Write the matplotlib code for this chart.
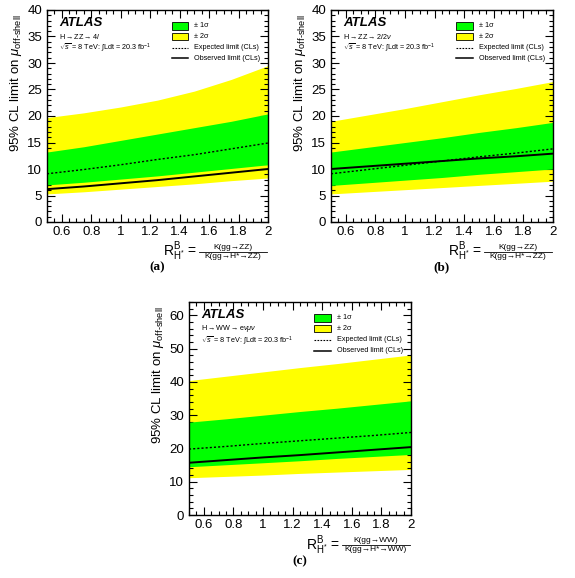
import matplotlib
matplotlib.use('Agg')
import matplotlib.pyplot as plt
from matplotlib.patches import Rectangle
from matplotlib.lines import Line2D
from matplotlib.ticker import MultipleLocator

plt.rcParams['font.family'] = ['Liberation Sans', 'DejaVu Sans']
plt.rcParams['mathtext.fontset'] = 'custom'
plt.rcParams['mathtext.rm'] = 'Liberation Sans'
plt.rcParams['mathtext.it'] = 'Liberation Sans:italic'
plt.rcParams['mathtext.bf'] = 'Liberation Sans:bold'

# R^B_H* scan points
r_b = [0.5, 0.75, 1.0, 1.25, 1.5, 1.75, 2.0]

# (a) H->ZZ->4l
a_yel_hi = [19.7, 20.6, 21.7, 23.0, 24.7, 26.9, 29.5]
a_grn_hi = [13.2, 14.2, 15.4, 16.6, 17.8, 19.0, 20.4]
a_exp    = [9.1, 9.9, 10.8, 11.8, 12.7, 13.8, 14.9]
a_obs    = [6.2, 6.7, 7.3, 7.9, 8.6, 9.3, 10.0]
a_grn_lo = [7.0, 7.5, 8.1, 8.7, 9.4, 10.1, 10.8]
a_yel_lo = [5.3, 5.7, 6.2, 6.7, 7.2, 7.8, 8.3]

# (b) H->ZZ->2l2nu
b_yel_hi = [19.0, 20.2, 21.4, 22.7, 24.0, 25.2, 26.5]
b_grn_hi = [13.2, 14.1, 15.0, 15.9, 16.9, 17.8, 18.8]
b_exp    = [9.1, 9.9, 10.7, 11.5, 12.3, 13.0, 13.8]
b_obs    = [10.0, 10.5, 11.0, 11.5, 12.0, 12.4, 12.9]
b_grn_lo = [6.9, 7.4, 7.9, 8.4, 9.0, 9.5, 10.0]
b_yel_lo = [5.3, 5.7, 6.1, 6.5, 6.9, 7.3, 7.7]

# (c) H->WW->enumunu
c_yel_hi = [40.4, 41.7, 43.0, 44.3, 45.5, 46.8, 48.1]
c_grn_hi = [27.9, 28.9, 30.0, 31.1, 32.1, 33.2, 34.3]
c_exp    = [19.8, 20.6, 21.5, 22.3, 23.1, 23.9, 24.8]
c_obs    = [15.7, 16.5, 17.3, 18.0, 18.8, 19.6, 20.4]
c_grn_lo = [14.5, 15.1, 15.7, 16.3, 17.0, 17.6, 18.2]
c_yel_lo = [11.2, 11.6, 12.0, 12.5, 12.9, 13.3, 13.7]

GREEN = '#00ff00'
YELLOW = '#ffff00'

W, H = 575, 578
fig = plt.figure(figsize=(W / 100, H / 100), dpi=100)


def px_axes(left, top, right, bottom):
    return fig.add_axes([left / W, 1 - bottom / H, (right - left) / W, (bottom - top) / H])


def panel(ax, yel_hi, grn_hi, exp, obs, grn_lo, yel_lo, ymax, ymaj, ymin,
          channel, proc, tag):
    ax.fill_between(r_b, yel_lo, yel_hi, color=YELLOW, lw=0, zorder=1)
    ax.fill_between(r_b, grn_lo, grn_hi, color=GREEN, lw=0, zorder=2)
    ax.plot(r_b, exp, color='black', ls=(0, (1.5, 1.5)), lw=1.0, zorder=3)
    ax.plot(r_b, obs, color='black', ls='-', lw=1.4, zorder=3)
    ax.set_xlim(0.5, 2.0)
    ax.set_ylim(0, ymax)
    ax.xaxis.set_major_locator(MultipleLocator(0.2))
    ax.xaxis.set_minor_locator(MultipleLocator(0.05))
    ax.yaxis.set_major_locator(MultipleLocator(ymaj))
    ax.yaxis.set_minor_locator(MultipleLocator(ymin))
    ax.xaxis.set_major_formatter(plt.FuncFormatter(lambda v, p: '%g' % round(v, 2)))
    ax.tick_params(which='both', direction='in', top=True, right=True, labelsize=9.5)
    ax.tick_params(which='major', length=6, width=0.8)
    ax.tick_params(which='minor', length=3, width=0.8)
    ax.tick_params(axis='x', pad=3)
    for s in ax.spines.values():
        s.set_linewidth(1.0)
    ax.set_ylabel(r'95% CL limit on $\mu_{\mathrm{off}\text{-}\mathrm{shell}}$', fontsize=9.5)
    ax.yaxis.set_label_coords(-0.105, 0.655)

    # ATLAS label block
    ax.text(0.055, 0.94, 'ATLAS', transform=ax.transAxes, fontsize=9.5,
            fontweight='bold', style='italic', va='center')
    ax.text(0.055, 0.875, channel, transform=ax.transAxes, fontsize=5.2, va='center')
    ax.text(0.055, 0.82, r'$\sqrt{s}$ = 8 TeV: $\int$Ldt = 20.3 fb$^{-1}$',
            transform=ax.transAxes, fontsize=5.2, va='center')

    # legend
    bx, bw, bh = 0.565, 0.075, 0.035
    for yc, col, lab in [(0.925, GREEN, '\u00b1 1\u03c3'),
                         (0.875, YELLOW, '\u00b1 2\u03c3')]:
        ax.add_patch(Rectangle((bx, yc - bh / 2), bw, bh, transform=ax.transAxes,
                               facecolor=col, edgecolor='black', lw=0.6, zorder=5))
        ax.text(bx + bw + 0.025, yc, lab, transform=ax.transAxes, fontsize=5.2,
                va='center', zorder=5)
    for yc, ls, lw, lab in [(0.822, (0, (1.5, 1.2)), 0.8, 'Expected limit (CLs)'),
                            (0.772, '-', 1.1, 'Observed limit (CLs)')]:
        ax.add_line(Line2D([bx, bx + bw], [yc, yc], transform=ax.transAxes,
                           color='black', ls=ls, lw=lw, zorder=5))
        ax.text(bx + bw + 0.025, yc, lab, transform=ax.transAxes, fontsize=5.2,
                va='center', zorder=5)

    # x-axis title: R^B_H* = K(gg->VV) / K(gg->H*->VV)
    ax.text(0.68, -0.14, r'$\mathrm{R^{B}_{H^{*}}}$ =', transform=ax.transAxes,
            fontsize=10, ha='right', va='center')
    ax.text(0.84, -0.118, 'K(gg\u2192%s)' % proc, transform=ax.transAxes,
            fontsize=6, ha='center', va='center')
    ax.add_line(Line2D([0.69, 0.995], [-0.14, -0.14], transform=ax.transAxes,
                       color='black', lw=0.6, clip_on=False))
    ax.text(0.84, -0.163, 'K(gg\u2192H*\u2192%s)' % proc,
            transform=ax.transAxes, fontsize=6, ha='center', va='center')
    ax.text(0.5, -0.215, tag, transform=ax.transAxes, fontsize=9.5,
            fontweight='bold', family='Liberation Serif', ha='center', va='center')


ax_a = px_axes(47, 10, 268, 222)
panel(ax_a, a_yel_hi, a_grn_hi, a_exp, a_obs, a_grn_lo, a_yel_lo, 40, 5, 1,
      r'H$\rightarrow$ZZ$\rightarrow$4$l$', 'ZZ', '(a)')

ax_b = px_axes(331, 10, 553, 222)
panel(ax_b, b_yel_hi, b_grn_hi, b_exp, b_obs, b_grn_lo, b_yel_lo, 40, 5, 1,
      r'H$\rightarrow$ZZ$\rightarrow$2$l$2$\nu$', 'ZZ', '(b)')

ax_c = px_axes(189, 302, 411, 515)
panel(ax_c, c_yel_hi, c_grn_hi, c_exp, c_obs, c_grn_lo, c_yel_lo, 64, 10, 2,
      r'H$\rightarrow$WW$\rightarrow$e$\nu\mu\nu$', 'WW', '(c)')

fig.savefig('out.png', dpi=100)
